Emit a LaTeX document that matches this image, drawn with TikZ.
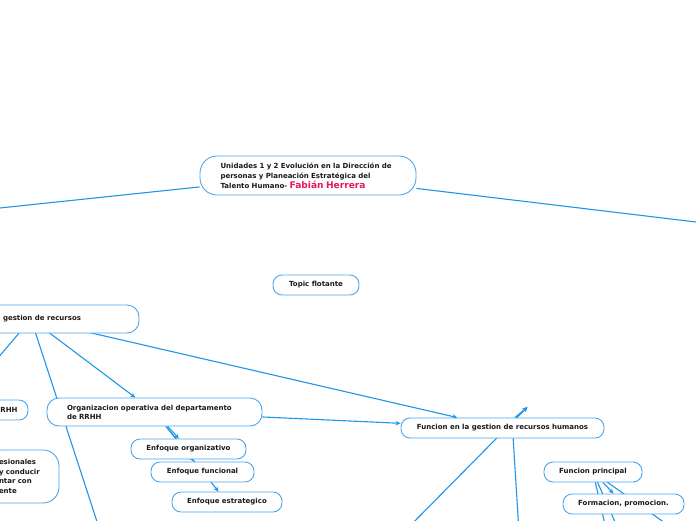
\documentclass[tikz,border=0pt]{standalone}
\usepackage{fontspec}
\setmainfont{DejaVu Sans}
\usetikzlibrary{arrows.meta,backgrounds}
\definecolor{linkblue}{HTML}{1E95E6}
\definecolor{boxblue}{HTML}{4BA6EC}
\definecolor{txt}{HTML}{1A1A1A}
\definecolor{accent}{HTML}{E8175D}
\begin{document}
\begin{tikzpicture}[x=1pt,y=-1pt,
  topic/.style={draw=boxblue, line width=0.9pt, fill=white, rounded corners=9pt,
    minimum height=20pt, inner sep=1pt, text=txt,
    font=\fontsize{7}{9.5}\selectfont\bfseries},
  link/.style={draw=linkblue, line width=1.1pt},
  arr/.style={link, -{Stealth[length=5pt,width=4.5pt]}}]
\useasboundingbox (0,0) rectangle (696,520);

% nodes
\node[topic, minimum width=216pt, minimum height=39pt, rounded corners=17pt,
  text width=175pt, align=left, font=\fontsize{7}{10}\selectfont\bfseries]
  (main) at (308,175.5) {Unidades 1 y 2 Evolución en la Dirección de\\
  personas y Planeación Estratégica del\\
  Talento Humano- {\color{accent}\fontsize{9.1}{10}\selectfont Fabián Herrera}};
\node[topic, minimum width=86pt] (flot) at (316,285) {Topic flotante};
\node[topic, minimum width=216pt, minimum height=28pt, rounded corners=12pt]
  (gest) at (31,319) {\makebox[56pt][l]{gestion de recursos}};
\node[topic, minimum width=48pt, text width=18pt, align=right] (rrhh) at (4,410) {RRHH};
\node[topic, minimum width=74pt, minimum height=53pt, rounded corners=16pt,
  text width=46pt, align=left] (prof) at (22,476.5)
  {\mbox{esionales}\\ \mbox{y conducir}\\ \mbox{ntar con}\\ \mbox{ente}};
\node[topic, minimum width=215pt, minimum height=28pt, rounded corners=12pt,
  text width=175pt, align=left, font=\fontsize{7}{9}\selectfont\bfseries]
  (org) at (154.5,412) {Organizacion operativa del departamento\\de RRHH};
\node[topic, minimum width=115pt] (eorg) at (188.5,449) {Enfoque organizativo};
\node[topic, minimum width=103pt] (efun) at (202.5,472) {Enfoque funcional};
\node[topic, minimum width=110pt] (eest) at (227,502) {Enfoque estrategico};
\node[topic, minimum width=203pt] (func) at (502.5,428) {Funcion en la gestion de recursos humanos};
\node[topic, minimum width=98pt] (fprin) at (593,472) {Funcion principal};
\node[topic, minimum width=121pt] (form) at (623.5,504) {Formacion, promocion.};

% free ends
\coordinate (mL) at (-60,214.3);
\coordinate (mR) at (760,229.7);
\coordinate (gA) at (-25,385);
\coordinate (gB) at (103,540);
\coordinate (fT) at (527.5,407);
\coordinate (fB) at (396,540);
\coordinate (fS) at (512.5,428);
\coordinate (fD) at (519.5,540);
\coordinate (pA) at (608.5,540);
\coordinate (pB) at (623,540);
\coordinate (pC) at (689,540);

\begin{pgfonlayer}{background}
\draw[link] (main) -- (mL);
\draw[link] (main) -- (mR);
\draw[link] (gest.center) -- (gA);
\draw[link] (gest.center) -- (gB);
\draw[arr] (gest.center) -- (org);
\draw[arr] (gest.center) -- (func);
\draw[arr] (org) -- (func);
\draw[arr] (org) -- (eorg);
\draw[arr] (org) -- (efun);
\draw[arr] (org) -- (eest);
\draw[arr] (fB) -- (fT);
\draw[arr] (func) -- (fT);
\draw[link] (fS) -- (fD);
\draw[arr] (fprin) -- (form);
\draw[link] (fprin.center) -- (pA);
\draw[link] (fprin.center) -- (pB);
\draw[link] (fprin.center) -- (pC);
\end{pgfonlayer}
\end{tikzpicture}
\end{document}
